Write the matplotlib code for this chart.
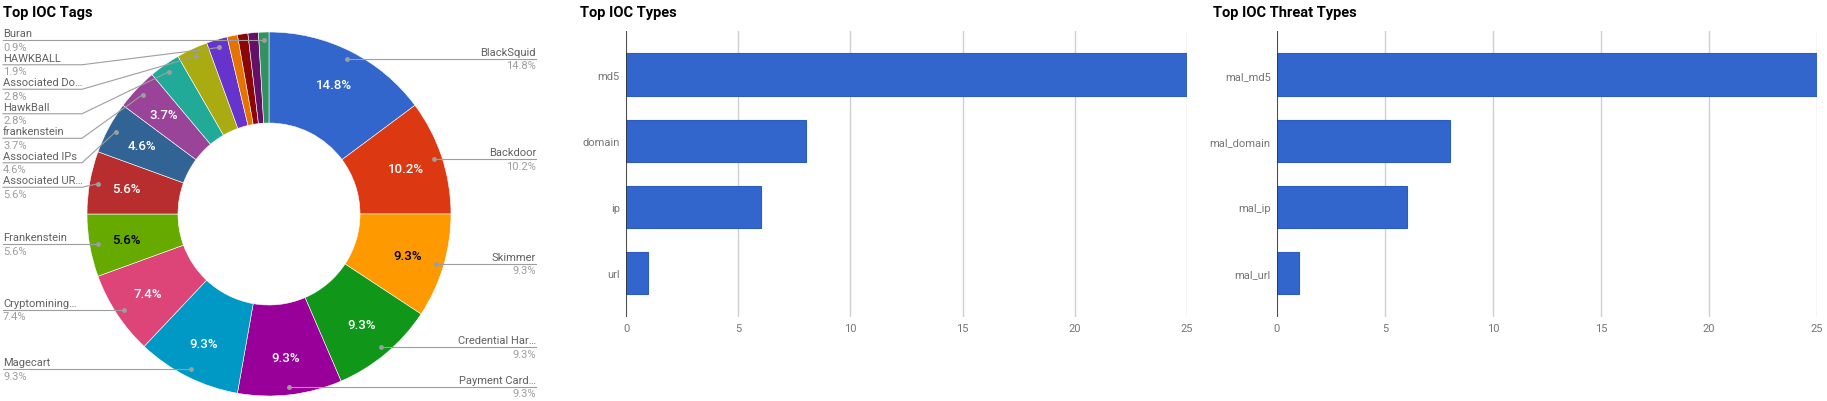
import matplotlib
matplotlib.use('Agg')
import matplotlib.pyplot as plt
import numpy as np

plt.rcParams['font.family'] = ['Roboto', 'DejaVu Sans']

W, H = 1827, 402

# pie data (counts, 108 tags in total)
TAG_NAMES = ['BlackSquid', 'Backdoor', 'Skimmer', 'Credential Har…', 'Payment Card…',
             'Magecart', 'Cryptomining…', 'Frankenstein', 'Associated UR…', 'Associated IPs',
             'frankenstein', 'HawkBall', 'Associated Do…', 'HAWKBALL', '', '', '', 'Buran']
TAG_COUNTS = [16, 11, 10, 10, 10, 10, 8, 6, 6, 5, 4, 3, 3, 2, 1, 1, 1, 1]
TAG_COLORS = ['#3366cc', '#dc3912', '#ff9900', '#109618', '#990099', '#0099c6', '#dd4477',
              '#66aa00', '#b82e2e', '#316395', '#994499', '#22aa99', '#aaaa11', '#6633cc',
              '#e67300', '#8b0707', '#651067', '#329262']

TYPE_NAMES = ['md5', 'domain', 'ip', 'url']
TYPE_COUNTS = [25, 8, 6, 1]
THREAT_NAMES = ['mal_md5', 'mal_domain', 'mal_ip', 'mal_url']
THREAT_COUNTS = [25, 8, 6, 1]
X_TICKS = [0, 5, 10, 15, 20, 25]

NAME_GREY = '#616161'
PCT_GREY = '#9e9e9e'
LINE_GREY = '#9e9e9e'


def luminance(hex_color):
    r, g, b = (int(hex_color[i:i + 2], 16) for i in (1, 3, 5))
    return 0.299 * r + 0.587 * g + 0.114 * b


fig = plt.figure(figsize=(W / 100, H / 100), dpi=100)

# ---- donut ----
ax = fig.add_axes([0, 0, 560 / W, 1])
R = 182
cx, cy = 269, H - 215
wedges, _ = ax.pie(TAG_COUNTS, colors=TAG_COLORS, radius=R, center=(cx, cy), startangle=90,
                   counterclock=False,
                   wedgeprops=dict(width=R * 0.5, edgecolor='white', linewidth=0.4))
ax.set_xlim(0, 560)
ax.set_ylim(0, H)
ax.set_aspect('equal')
ax.axis('off')

total = sum(TAG_COUNTS)
left, right = [], []
for w, name, count, color in zip(wedges, TAG_NAMES, TAG_COUNTS, TAG_COLORS):
    mid = np.deg2rad((w.theta1 + w.theta2) / 2)
    share = count / total
    if share >= 0.035:
        tx = cx + 0.795 * R * np.cos(mid)
        ty = cy + 0.795 * R * np.sin(mid)
        ax.text(tx, ty, f'{share * 100:.1f}%', ha='center', va='center', fontsize=9.5,
                fontweight='medium',
                color='black' if luminance(color) > 125 else 'white')
    if not name:
        continue
    dot = (cx + 0.955 * R * np.cos(mid), cy + 0.955 * R * np.sin(mid))
    (left if dot[0] < cx else right).append((dot, name, share))

for side, edge_x, bend_x, ha in ((left, 3, 82, 'left'), (right, 536, 457, 'right')):
    side.sort(key=lambda s: -s[0][1])
    prev = None
    for dot, name, share in side:
        ly = dot[1] if prev is None else min(dot[1], prev - 24.5)
        prev = ly
        ax.plot([edge_x, bend_x, dot[0]], [ly, ly, dot[1]], color=LINE_GREY, lw=0.8)
        ax.plot(*dot, 'o', ms=2.5, color=LINE_GREY)
        ax.text(edge_x, ly + 7, name, ha=ha, va='center', fontsize=8, color=NAME_GREY)
        ax.text(edge_x, ly - 6.5, f'{share * 100:.1f}%', ha=ha, va='center', fontsize=8,
                color=PCT_GREY)

fig.text(3 / W, 1 - 13 / H, 'Top IOC Tags', fontsize=10.5, fontweight='bold', va='center')


# ---- bar panels ----
def bar_panel(left_px, width_px, names, counts, title, title_x):
    bx = fig.add_axes([left_px / W, (H - 318) / H, width_px / W, 286 / H])
    y = np.arange(len(names))
    bx.barh(y, counts, height=0.64, color='#3366cc', edgecolor='#2d5cc0', linewidth=0.8,
            zorder=3)
    bx.set_xlim(0, 25)
    bx.set_ylim(len(names) - 1 + 0.665, -0.66)
    bx.set_xticks(X_TICKS)
    bx.set_yticks(y, names)
    bx.grid(axis='x', color='#d0d0d0', lw=1, zorder=0)
    bx.axvline(0, color='#333333', lw=1.2, zorder=4)
    for s in bx.spines.values():
        s.set_visible(False)
    bx.tick_params(length=0, colors='#757575', labelsize=8, pad=4.5)
    fig.text(title_x / W, 1 - 13 / H, title, fontsize=10.5, fontweight='bold', va='center')
    return bx


bar_panel(626, 561, TYPE_NAMES, TYPE_COUNTS, 'Top IOC Types', 580)
bar_panel(1277, 540, THREAT_NAMES, THREAT_COUNTS, 'Top IOC Threat Types', 1213)

fig.savefig('out.png', dpi=100)
